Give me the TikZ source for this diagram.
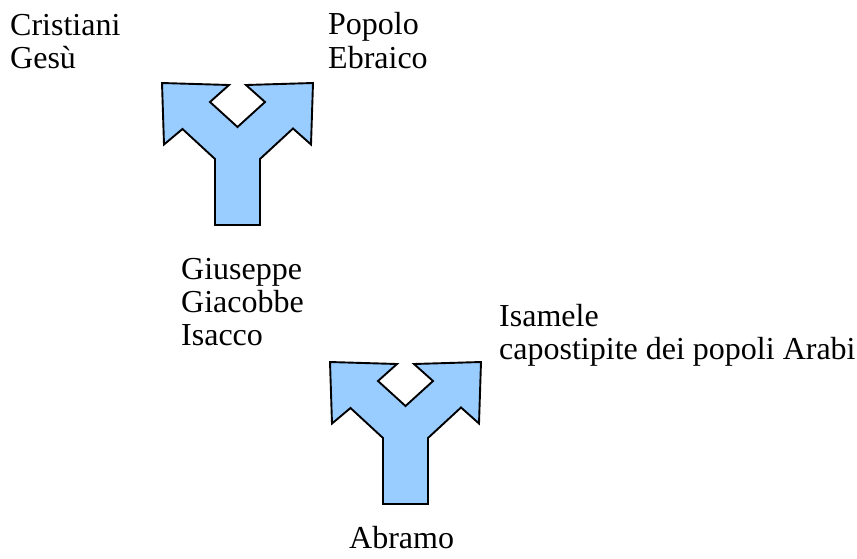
\documentclass[tikz,border=0pt]{standalone}
\usepackage{fontspec}
\setmainfont{Liberation Serif}
\definecolor{arrowblue}{HTML}{99CCFF}
\begin{document}
\begin{tikzpicture}[x=1pt,y=-1pt,
  lbl/.style={inner sep=0pt,anchor=base west,font=\fontsize{32}{33}\selectfont},
  splitshape/.style={fill=arrowblue,draw=black,line width=1.9pt,line join=miter},
  pics/splitarrow/.style={code={
    \draw[splitshape] (0,0) -- (67,2) -- (48,19) -- (75.5,44) -- (103,19) -- (84,2)
      -- (151,0) -- (149,61.5) -- (131,45.5) -- (98,76) -- (98,142) -- (53,142)
      -- (53,76) -- (20.5,46) -- (2,61.5) -- cycle;
  }}]
\useasboundingbox (0,0) rectangle (857,558);
\pic at (162,83) {splitarrow};
\pic at (330,362) {splitarrow};
\node[lbl] (cristiani) at (10,35) {Cristiani};
\node[lbl] (gesu) at (10,68) {Gesù};
\node[lbl] (popolo) at (328,34.5) {Popolo};
\node[lbl] (ebraico) at (328,68) {Ebraico};
\node[lbl] (giuseppe) at (181,279) {Giuseppe};
\node[lbl] (giacobbe) at (181,312) {Giacobbe};
\node[lbl] (isacco) at (181,345) {Isacco};
\node[lbl] (isamele) at (499,326.5) {Isamele};
\node[lbl] (capostipite) at (499,359.5) {capostipite dei popoli Arabi};
\node[lbl] (abramo) at (349,548) {Abramo};
\end{tikzpicture}
\end{document}
